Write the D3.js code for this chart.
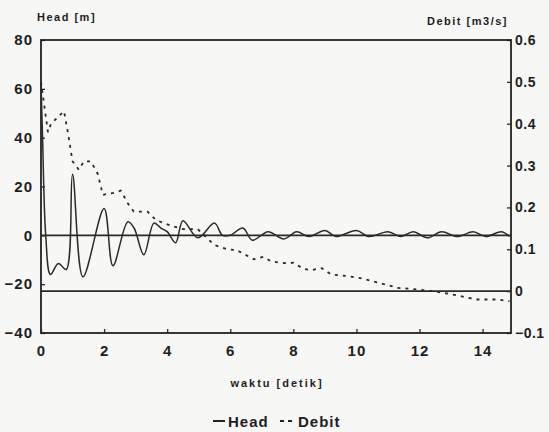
<!DOCTYPE html>
<html>
<head>
<meta charset="utf-8">
<script src="https://cdn.jsdelivr.net/npm/d3@7"></script>
<style>
  body { margin: 0; background: #f7f7f5; }
  svg { display: block; }
  text { font-family: "Liberation Sans", Arial, sans-serif; font-weight: bold; fill: #1e1e1e; }
</style>
</head>
<body>
<svg id="chart" width="549" height="432"></svg>
<script>
// head [m] versus waktu [detik]
var headTime = [0, 0.05, 0.15, 0.3, 0.55, 0.8, 1.0, 1.33, 2.0, 2.28, 2.75, 2.95, 3.26, 3.58, 3.8, 4.0, 4.27, 4.5, 4.97, 5.5, 5.75, 6.0, 6.4, 6.7, 7.2, 7.7, 8.1, 8.5, 9.0, 9.35, 10.0, 10.4, 11.0, 11.4, 11.8, 12.25, 12.7, 13.2, 13.7, 14.1, 14.6, 14.85];
var headVal  = [62, 40, 0, -16, -11.5, -14, 25, -17, 11, -12.5, 5.5, 3, -8, 5, 3, 1.5, -3, 6, -1, 5, 0, 0, 3, -2, 1.5, -1.5, 1.5, -0.5, 2, -0.5, 2, -0.5, 1.5, -0.5, 1.5, -1, 1.5, -0.5, 1.5, -0.5, 1.5, -0.5];

// debit [m3/s] versus waktu [detik]
var debitTime = [0, 0.22, 0.32, 0.73, 0.85, 1.0, 1.2, 1.36, 1.58, 1.8, 1.96, 2.3, 2.53, 2.75, 2.94, 3.38, 3.64, 4.1, 4.5, 4.97, 5.5, 5.9, 6.2, 6.5, 6.75, 7.05, 7.3, 7.7, 8.0, 8.3, 8.55, 8.9, 9.2, 9.7, 10.2, 10.76, 11.3, 11.8, 12.4, 12.97, 13.3, 13.8, 14.5, 14.85];
var debitVal  = [0.5, 0.38, 0.40, 0.43, 0.38, 0.31, 0.29, 0.31, 0.31, 0.28, 0.23, 0.235, 0.24, 0.21, 0.19, 0.19, 0.17, 0.157, 0.148, 0.148, 0.11, 0.10, 0.098, 0.086, 0.076, 0.082, 0.071, 0.067, 0.068, 0.054, 0.05, 0.055, 0.04, 0.036, 0.03, 0.019, 0.008, 0.005, 0.0, -0.007, -0.012, -0.02, -0.02, -0.024];

var xTicks = [0, 2, 4, 6, 8, 10, 12, 14];
var headTicks = [-40, -20, 0, 20, 40, 60, 80];
var debitTicks = [-0.1, 0, 0.1, 0.2, 0.3, 0.4, 0.5, 0.6];

var svg = d3.select("svg#chart"),
    margin = {left: 41, right: 38, top: 40, bottom: 99},
    width = +svg.attr("width") - margin.left - margin.right,
    height = +svg.attr("height") - margin.top - margin.bottom;

var x = d3.scaleLinear().domain([0, 14.9]).range([0, width]);
var yHead = d3.scaleLinear().domain([-40, 80]).range([height, 0]);
var yDebit = d3.scaleLinear().domain([-0.1, 0.6]).range([height, 0]);

var g = svg.append("g")
    .attr("transform", "translate(" + margin.left + "," + margin.top + ")");

//reference lines (head = 0 and debit = 0)
g.append("line")
    .attr("x1", 0).attr("x2", width)
    .attr("y1", yHead(0)).attr("y2", yHead(0))
    .attr("stroke", "#2a2a2a").attr("stroke-width", 1.6);

g.append("line")
    .attr("x1", 0).attr("x2", width)
    .attr("y1", yDebit(0)).attr("y2", yDebit(0))
    .attr("stroke", "#2a2a2a").attr("stroke-width", 1.6);

//axes, ticks inside the frame
var axisStyle = function(size, spacing) {
  return function(sel) {
    sel.select(".domain").remove();
    sel.selectAll(".tick line").attr("stroke", "#2a2a2a").attr("stroke-width", 1.3);
    sel.selectAll(".tick text")
      .attr("font-size", size)
      .attr("letter-spacing", spacing)
      .attr("fill", "#1e1e1e");
  };
};

g.append("g")
    .attr("transform", "translate(0," + height + ")")
    .call(d3.axisBottom(x).tickValues(xTicks).tickFormat(d3.format("d")).tickSizeInner(-4).tickSizeOuter(0).tickPadding(12))
    .call(axisStyle("15px", "1px"));

g.append("g")
    .call(d3.axisLeft(yHead).tickValues(headTicks).tickFormat(d3.format("d")).tickSizeInner(-4).tickSizeOuter(0).tickPadding(8))
    .call(axisStyle("15px", "1px"));

g.append("g")
    .attr("transform", "translate(" + width + ",0)")
    .call(d3.axisRight(yDebit).tickValues(debitTicks)
      .tickFormat(function(d) { return d === 0 ? "0" : d3.format(".1f")(d); })
      .tickSizeInner(-4).tickSizeOuter(0).tickPadding(4))
    .call(axisStyle("14px", "0.5px"));

//frame
g.append("rect")
    .attr("x", 0).attr("y", 0)
    .attr("width", width).attr("height", height)
    .attr("fill", "none")
    .attr("stroke", "#222")
    .attr("stroke-width", 1.8);

//series
var headLine = d3.line()
    .x(function(d, i) { return x(headTime[i]); })
    .y(function(d) { return yHead(d); })
    .curve(d3.curveCatmullRom.alpha(0.5));

var debitLine = d3.line()
    .x(function(d, i) { return x(debitTime[i]); })
    .y(function(d) { return yDebit(d); });

g.append("path")
    .datum(headVal)
    .attr("d", headLine)
    .attr("fill", "none")
    .attr("stroke", "#2a2a2a")
    .attr("stroke-width", 1.5);

g.append("path")
    .datum(debitVal)
    .attr("d", debitLine)
    .attr("fill", "none")
    .attr("stroke", "#2a2a2a")
    .attr("stroke-width", 1.8)
    .style("stroke-dasharray", ("3,5"));

//titles
svg.append("text")
    .attr("x", 37).attr("y", 21)
    .attr("font-size", "11px")
    .attr("letter-spacing", "1.5px")
    .text("Head [m]");

svg.append("text")
    .attr("x", 508).attr("y", 25)
    .attr("text-anchor", "end")
    .attr("font-size", "11px")
    .attr("letter-spacing", "1.5px")
    .text("Debit [m3/s]");

svg.append("text")
    .attr("x", 277).attr("y", 387)
    .attr("text-anchor", "middle")
    .attr("font-size", "11px")
    .attr("letter-spacing", "2px")
    .text("waktu [detik]");

//legend
var legend = svg.append("g").attr("transform", "translate(213,421)");

legend.append("line")
    .attr("x1", 0).attr("x2", 12).attr("y1", 0).attr("y2", 0)
    .attr("stroke", "#222").attr("stroke-width", 2);

legend.append("text")
    .attr("x", 15).attr("y", 6)
    .attr("font-size", "15px")
    .attr("letter-spacing", "1px")
    .text("Head");

legend.append("line")
    .attr("x1", 67).attr("x2", 82).attr("y1", 0).attr("y2", 0)
    .attr("stroke", "#222").attr("stroke-width", 2)
    .style("stroke-dasharray", ("4,4"));

legend.append("text")
    .attr("x", 85).attr("y", 6)
    .attr("font-size", "15px")
    .attr("letter-spacing", "1px")
    .text("Debit");
</script>
</body>
</html>
